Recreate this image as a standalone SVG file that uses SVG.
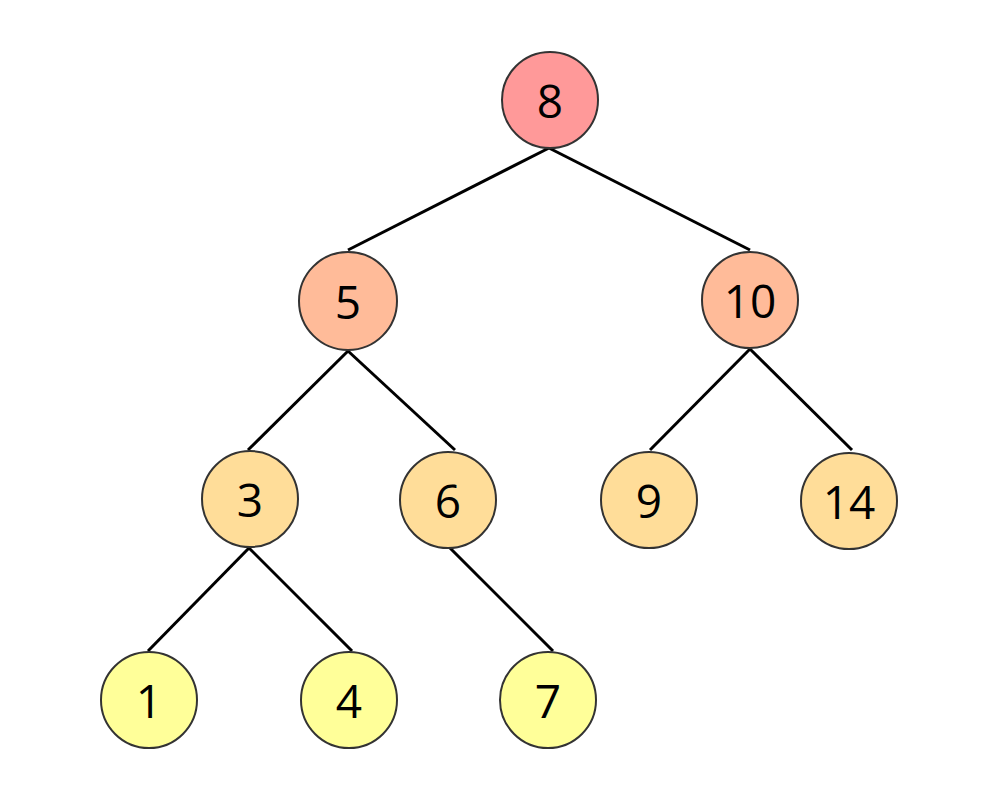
<svg xmlns="http://www.w3.org/2000/svg" width="999" height="801" viewBox="0 0 999 801">
<style>
.e{stroke:#000;stroke-width:3;fill:none}
.n circle{stroke:#333;stroke-width:2}
.n text{font-family:"Open Sans","Noto Sans",sans-serif;font-size:46px;fill:#000;text-anchor:middle;dominant-baseline:central}
.l1{fill:#FF9999}.l2{fill:#FFBB99}.l3{fill:#FFDD99}.l4{fill:#FFFF99}
</style>
<rect width="999" height="801" fill="#fff"/>
<g id="edges">
<line class="e" x1="549" y1="148" x2="348" y2="250"/>
<line class="e" x1="549" y1="148" x2="750" y2="250"/>
<line class="e" x1="348" y1="351" x2="248" y2="450"/>
<line class="e" x1="348" y1="351" x2="455" y2="450"/>
<line class="e" x1="750" y1="349" x2="650" y2="450"/>
<line class="e" x1="750" y1="349" x2="852" y2="450"/>
<line class="e" x1="249" y1="548" x2="148" y2="651"/>
<line class="e" x1="249" y1="548" x2="352" y2="651"/>
<line class="e" x1="450" y1="548" x2="553" y2="651"/>
</g>
<g id="n8" class="n"><circle class="l1" cx="550" cy="100" r="48"/><text x="550" y="100">8</text></g>
<g id="n5" class="n"><circle class="l2" cx="348" cy="301" r="49"/><text x="348" y="301">5</text></g>
<g id="n10" class="n"><circle class="l2" cx="750" cy="300" r="48"/><text x="750" y="300">10</text></g>
<g id="n3" class="n"><circle class="l3" cx="250" cy="499" r="48"/><text x="250" y="499">3</text></g>
<g id="n6" class="n"><circle class="l3" cx="448" cy="500" r="48"/><text x="448" y="500">6</text></g>
<g id="n9" class="n"><circle class="l3" cx="649" cy="500" r="48"/><text x="649" y="500">9</text></g>
<g id="n14" class="n"><circle class="l3" cx="849" cy="501" r="48"/><text x="849" y="501">14</text></g>
<g id="n1" class="n"><circle class="l4" cx="149" cy="700" r="48"/><text x="149" y="700">1</text></g>
<g id="n4" class="n"><circle class="l4" cx="349" cy="700" r="48"/><text x="349" y="700">4</text></g>
<g id="n7" class="n"><circle class="l4" cx="548" cy="700" r="48"/><text x="548" y="700">7</text></g>
</svg>
